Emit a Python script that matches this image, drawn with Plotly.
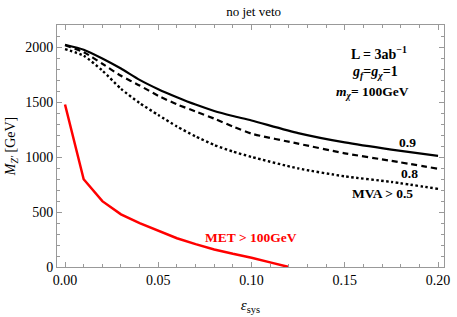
import plotly.graph_objects as go

eps = [0.0, 0.01, 0.02, 0.03, 0.04, 0.05, 0.06, 0.07, 0.08, 0.09, 0.10,
       0.125, 0.15, 0.175, 0.20]
mva09 = [2025, 1980, 1900, 1808, 1705, 1620, 1547, 1480, 1422, 1376, 1335,
         1220, 1135, 1070, 1012]
mva08 = [2020, 1958, 1852, 1742, 1654, 1560, 1482, 1417, 1352, 1280, 1215,
         1124, 1036, 967, 895]
mva05 = [1985, 1925, 1790, 1624, 1494, 1385, 1280, 1190, 1112, 1052, 1003,
         898, 826, 775, 712]

eps_met = [0.0, 0.01, 0.02, 0.03, 0.04, 0.05, 0.06, 0.07, 0.08, 0.09, 0.10, 0.11, 0.12]
met = [1480, 800, 600, 480, 400, 328, 262, 208, 160, 120, 85, 42, 0]

x_ticks = [0.0, 0.05, 0.10, 0.15, 0.20]
x_tick_text = ["0.00", "0.05", "0.10", "0.15", "0.20"]
y_ticks = [0, 500, 1000, 1500, 2000]

FONT = "Liberation Serif"

fig = go.Figure()
fig.add_trace(go.Scatter(x=eps, y=mva09, mode="lines", line=dict(color="black", width=2.2, shape="spline", smoothing=0.6)))
fig.add_trace(go.Scatter(x=eps, y=mva08, mode="lines", line=dict(color="black", width=2.2, dash="6px,4px", shape="spline", smoothing=0.6)))
fig.add_trace(go.Scatter(x=eps, y=mva05, mode="lines", line=dict(color="black", width=2.4, dash="2.5px,2.5px", shape="spline", smoothing=0.6)))
fig.add_trace(go.Scatter(x=eps_met, y=met, mode="lines", line=dict(color="#ff0000", width=2.5)))

annots = [
    dict(x=0.1686, y=1953, text="<b>L = 3ab<sup>−1</sup></b>", color="black", size=14),
    dict(x=0.166, y=1769, text="<b><i>g<sub>f</sub></i>=<i>g<sub>χ</sub></i>=1</b>", color="black", size=14),
    dict(x=0.165, y=1594, text="<b><i>m<sub>χ</sub></i>= 100GeV</b>", color="black", size=13.5),
    dict(x=0.1836, y=1130, text="<b>0.9</b>", color="black", size=13.5),
    dict(x=0.1845, y=852, text="<b>0.8</b>", color="black", size=13.5),
    dict(x=0.170, y=666, text="<b>MVA &gt; 0.5</b>", color="black", size=13.5),
    dict(x=0.0995, y=268, text="<b>MET &gt; 100GeV</b>", color="#ff0000", size=13.5),
]
for a in annots:
    fig.add_annotation(x=a["x"], y=a["y"], text=a["text"], showarrow=False,
                       font=dict(family=FONT, size=a["size"], color=a["color"]),
                       xanchor="center", yanchor="middle")

axis_common = dict(
    showgrid=False, zeroline=False, showline=True, linecolor="#999999", linewidth=1,
    mirror="allticks", ticks="inside", ticklen=5, tickcolor="#999999",
    tickfont=dict(family=FONT, size=14, color="black"),
)
fig.update_xaxes(range=[-0.0043, 0.2032], tickvals=x_ticks, ticktext=x_tick_text,
                 minor=dict(dtick=0.01, ticks="inside", ticklen=3, tickcolor="#999999"),
                 title=dict(text="<i>ε</i><sub>sys</sub>", font=dict(family=FONT, size=15, color="black"), standoff=12),
                 **axis_common)
fig.update_yaxes(range=[0, 2205], tickvals=y_ticks,
                 minor=dict(dtick=100, ticks="inside", ticklen=3, tickcolor="#999999"),
                 title=dict(text="<i>M<sub>Z'</sub></i> [GeV]", font=dict(family=FONT, size=14, color="black"), standoff=6),
                 **axis_common)
fig.update_layout(
    width=457, height=317, showlegend=False,
    margin=dict(l=57, r=7, t=25, b=49),
    plot_bgcolor="white", paper_bgcolor="white",
    title=dict(text="no jet veto", x=0.555, xanchor="center", y=0.965, yanchor="middle",
               font=dict(family=FONT, size=13, color="black")),
)
fig.write_html("out.html", config={"displayModeBar": False},
               post_script="document.body.style.margin='0';document.body.style.padding='0';")
